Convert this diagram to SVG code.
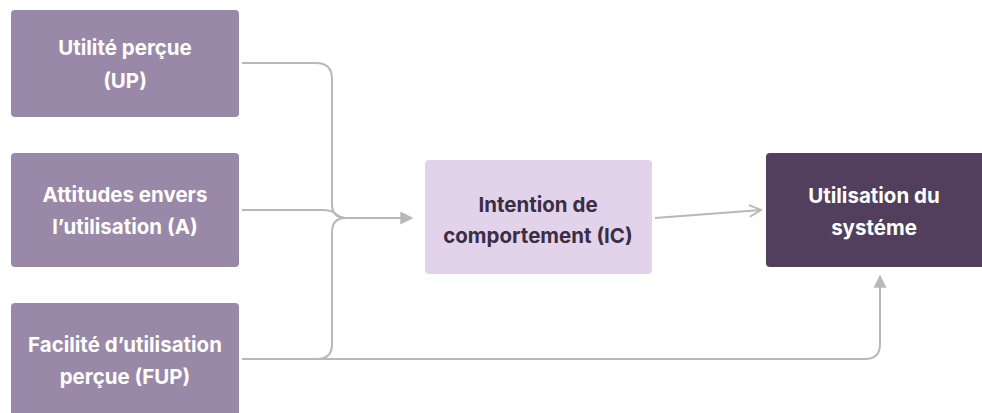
<svg xmlns="http://www.w3.org/2000/svg" width="982" height="413" viewBox="0 0 982 413">
<defs>
<style>
.src{fill:#9a88a8}
.lbl{font-family:Inter,"Liberation Sans",sans-serif;font-weight:700;font-size:20.5px;text-anchor:middle}
.w{fill:#ffffff}
.d{fill:#3b2d45}
.c{fill:none;stroke:#b8b8b8;stroke-width:2}
</style>
<marker id="tri2" viewBox="0 0 10 10" refX="9" refY="5" markerWidth="13" markerHeight="13" markerUnits="userSpaceOnUse" orient="auto"><path d="M0,0 L10,5 L0,10 z" fill="#b8b8b8"/></marker>
<marker id="chev" viewBox="0 0 12 12" refX="11" refY="6" markerWidth="14" markerHeight="14" markerUnits="userSpaceOnUse" orient="auto"><path d="M1,1 L11,6 L1,11" fill="none" stroke="#b8b8b8" stroke-width="1.6"/></marker>
</defs>
<rect width="982" height="413" fill="#ffffff"/>
<g id="connectors">
<path class="c" d="M242,63 H316 Q332,63 332,79 V204 Q332,218 346,218 H412" marker-end="url(#tri2)"/>
<path class="c" d="M242,210 H322 Q332,210 336,214 Q340,218 346,218"/>
<path class="c" d="M332,344 V232 Q332,218 346,218"/>
<path class="c" d="M242,359 H317 Q332,359 332,344"/>
<path class="c" d="M317,359 H865 Q880,359 880,344 V276" marker-end="url(#tri2)"/>
<path class="c" d="M655,218 L761,210" marker-end="url(#chev)"/>
</g>
<g id="node-up">
<rect class="src" x="11" y="10" width="228" height="107" rx="4"/>
<text class="lbl w" x="125" y="55">Utilité perçue</text>
<text class="lbl w" x="125" y="88">(UP)</text>
</g>
<g id="node-a">
<rect class="src" x="11" y="153" width="228" height="114" rx="4"/>
<text class="lbl w" x="125" y="202">Attitudes envers</text>
<text class="lbl w" x="125" y="234">l’utilisation (A)</text>
</g>
<g id="node-fup">
<rect class="src" x="11" y="303" width="228" height="120" rx="4"/>
<text class="lbl w" x="125" y="352">Facilité d’utilisation</text>
<text class="lbl w" x="125" y="384">perçue (FUP)</text>
</g>
<g id="node-ic">
<rect x="425" y="160" width="227" height="114" rx="4" fill="#e2d3ea"/>
<text class="lbl d" x="538" y="212">Intention de</text>
<text class="lbl d" x="538" y="243">comportement (IC)</text>
</g>
<g id="node-us">
<rect x="766" y="153" width="230" height="114" rx="4" fill="#523f5e"/>
<text class="lbl w" x="874" y="203">Utilisation du</text>
<text class="lbl w" x="874" y="235">systéme</text>
</g>
</svg>
